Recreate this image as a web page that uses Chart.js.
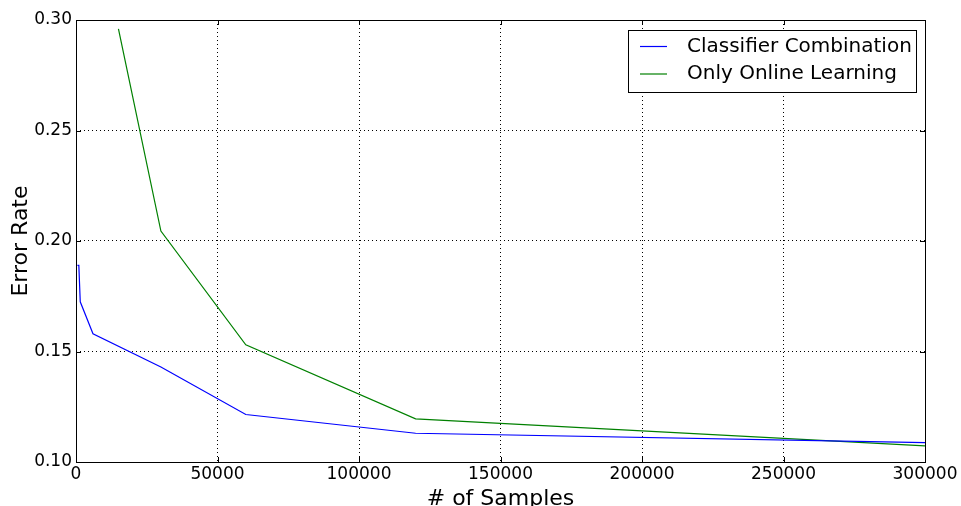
<!DOCTYPE html>
<html>
<head>
<meta charset="utf-8">
<script src="https://cdn.jsdelivr.net/npm/chart.js@4/dist/chart.umd.min.js"></script>
<style>
  html, body { margin: 0; padding: 0; background: #fff; }
  #wrap { width: 961px; height: 506px; }
</style>
</head>
<body>
<div id="wrap"><canvas id="c" width="961" height="506"></canvas></div>
<script>
// values
const comboSamples = [500, 1000, 1500, 6000, 30000, 60000, 120000, 300000];
const comboError   = [0.189, 0.189, 0.1725, 0.158, 0.143, 0.1215, 0.113, 0.1088];
const onlineSamples = [15000, 30000, 60000, 120000, 300000];
const onlineError   = [0.296, 0.2045, 0.153, 0.1195, 0.1073];
const xTicks = [0, 50000, 100000, 150000, 200000, 250000, 300000];
const yTicks = [0.10, 0.15, 0.20, 0.25, 0.30];

const FONT = "'DejaVu Sans', sans-serif";

const pts = (xs, ys) => xs.map((x, i) => ({ x: x, y: ys[i] }));

// matplotlib style: inward ticks on all sides, titles, boxed legend
const decor = {
  id: "decor",
  afterDraw(chart) {
    const ctx = chart.ctx;
    const a = chart.chartArea;
    const xs = chart.scales.x, ys = chart.scales.y;
    ctx.save();
    ctx.strokeStyle = "#000";
    ctx.lineWidth = 1;
    ctx.beginPath();
    xTicks.forEach(v => {
      const px = Math.round(xs.getPixelForValue(v)) + 0.5;
      ctx.moveTo(px, a.bottom); ctx.lineTo(px, a.bottom - 5);
      ctx.moveTo(px, a.top); ctx.lineTo(px, a.top + 5);
    });
    yTicks.forEach(v => {
      const py = Math.round(ys.getPixelForValue(v)) + 0.5;
      ctx.moveTo(a.left, py); ctx.lineTo(a.left + 5, py);
      ctx.moveTo(a.right, py); ctx.lineTo(a.right - 5, py);
    });
    ctx.stroke();
    ctx.strokeRect(a.left + 0.5, a.top + 0.5, a.right - a.left, a.bottom - a.top);

    // axis titles
    ctx.fillStyle = "#000";
    ctx.font = "22px " + FONT;
    ctx.textAlign = "center";
    ctx.textBaseline = "alphabetic";
    ctx.fillText("# of Samples", (a.left + a.right) / 2, 505);
    ctx.save();
    ctx.translate(27, (a.top + a.bottom) / 2);
    ctx.rotate(-Math.PI / 2);
    ctx.fillText("Error Rate", 0, 0);
    ctx.restore();

    // legend
    const bx = 628.5, by = 30.5, bw = 288, bh = 62;
    ctx.fillStyle = "#fff";
    ctx.fillRect(bx, by, bw, bh);
    ctx.strokeRect(bx, by, bw, bh);
    ctx.font = "20px " + FONT;
    ctx.textAlign = "left";
    ctx.textBaseline = "middle";
    chart.data.datasets.forEach((ds, i) => {
      const ly = 46.5 + i * 27.5;
      ctx.strokeStyle = ds.borderColor;
      ctx.lineWidth = 1.2;
      ctx.beginPath();
      ctx.moveTo(640, ly); ctx.lineTo(667, ly);
      ctx.stroke();
      ctx.fillStyle = "#000";
      ctx.fillText(ds.label, 687, ly);
    });
    ctx.restore();
  }
};

new Chart(document.getElementById("c"), {
  type: "line",
  data: {
    datasets: [
      { label: "Classifier Combination", data: pts(comboSamples, comboError),
        borderColor: "#0000ff", borderWidth: 1.2, pointRadius: 0, tension: 0, fill: false },
      { label: "Only Online Learning", data: pts(onlineSamples, onlineError),
        borderColor: "#008000", borderWidth: 1.2, pointRadius: 0, tension: 0, fill: false }
    ]
  },
  options: {
    responsive: false,
    animation: false,
    layout: { padding: { left: 0, top: 20, right: 36, bottom: 0 } },
    plugins: { legend: { display: false }, tooltip: { enabled: false } },
    scales: {
      x: {
        type: "linear", min: 0, max: 300000,
        afterFit: s => { s.height = 44; },
        afterBuildTicks: s => { s.ticks = xTicks.map(v => ({ value: v })); },
        ticks: { color: "#000", font: { family: FONT, size: 17 }, padding: 2,
                 maxRotation: 0, callback: v => String(v) },
        grid: { color: "#000", lineWidth: 1, drawTicks: false },
        border: { display: false, dash: [1, 3] }
      },
      y: {
        min: 0.10, max: 0.30,
        afterFit: s => { s.width = 76; },
        afterBuildTicks: s => { s.ticks = yTicks.map(v => ({ value: v })); },
        ticks: { color: "#000", font: { family: FONT, size: 17 }, padding: 4,
                 callback: v => v.toFixed(2) },
        grid: { color: "#000", lineWidth: 1, drawTicks: false },
        border: { display: false, dash: [1, 3] }
      }
    }
  },
  plugins: [decor]
});
</script>
</body>
</html>
